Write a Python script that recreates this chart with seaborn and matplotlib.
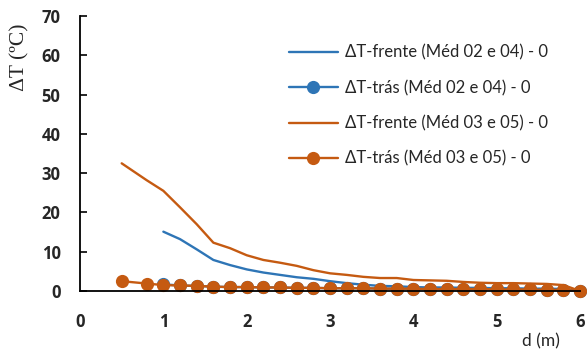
import matplotlib
matplotlib.use("Agg")
import matplotlib.pyplot as plt
import seaborn as sns
import pandas as pd

# Distances (m)
d_blue = [1.0, 1.2, 1.4, 1.6, 1.8, 2.0, 2.2, 2.4, 2.6, 2.8, 3.0, 3.2, 3.4, 3.6, 3.8,
          4.0, 4.2, 4.4, 4.6, 4.8, 5.0, 5.2, 5.4, 5.6, 5.8, 6.0]
d_orange = [0.5, 0.8] + d_blue

# Temperature differences (ºC)
frente_02_04 = [15.1, 13.2, 10.6, 7.9, 6.6, 5.5, 4.7, 4.1, 3.5, 3.1, 2.5, 2.0, 1.6, 1.3, 1.2,
                1.0, 0.9, 0.9, 0.8, 0.8, 0.7, 0.7, 0.6, 0.6, 0.5, 0.0]
tras_02_04 = [1.7, 1.4, 1.3, 1.1, 1.0, 1.0, 0.9, 0.9, 0.8, 0.8, 0.7, 0.7, 0.7, 0.6, 0.6,
              0.6, 0.5, 0.5, 0.5, 0.5, 0.4, 0.4, 0.4, 0.3, 0.3, 0.0]
frente_03_05 = [32.5, 28.2, 25.5, 21.3, 17.0, 12.3, 10.9, 9.1, 7.9, 7.2, 6.4, 5.3, 4.5, 4.1,
                3.6, 3.3, 3.3, 2.8, 2.7, 2.6, 2.3, 2.1, 2.0, 2.0, 1.9, 1.8, 1.5, 0.0]
tras_03_05 = [2.5, 1.9, 1.5, 1.4, 1.3, 1.1, 1.0, 1.0, 0.9, 0.9, 0.8, 0.8, 0.7, 0.7, 0.7,
              0.6, 0.6, 0.6, 0.5, 0.5, 0.5, 0.5, 0.4, 0.4, 0.4, 0.3, 0.3, 0.0]

labels = ["ΔT-frente (Méd 02 e 04) - 0", "ΔT-trás (Méd 02 e 04) - 0",
          "ΔT-frente (Méd 03 e 05) - 0", "ΔT-trás (Méd 03 e 05) - 0"]

x_ticks = [0, 1, 2, 3, 4, 5, 6]
y_ticks = [0, 10, 20, 30, 40, 50, 60, 70]

BLUE = "#2E75B6"
ORANGE = "#C55A11"

sns.set_theme(style="white", rc={"ytick.left": True, "xtick.bottom": False})
plt.rcParams["font.family"] = ["Lato", "DejaVu Sans"]

fig = plt.figure(figsize=(5.87, 3.52), dpi=100)
ax = fig.add_axes([0.1363, 0.1733, 0.852, 0.7812])

series = [
    (d_blue, frente_02_04, BLUE, None),
    (d_blue, tras_02_04, BLUE, "o"),
    (d_orange, frente_03_05, ORANGE, None),
    (d_orange, tras_03_05, ORANGE, "o"),
]
for (xs, ys, color, marker), lab in zip(series, labels):
    df = pd.DataFrame({"d": xs, "dT": ys})
    sns.lineplot(data=df, x="d", y="dT", ax=ax, color=color, linewidth=1.7,
                 marker=marker, markersize=9.5, markeredgewidth=0,
                 label=lab, clip_on=False, estimator=None, sort=False)

ax.set_xlim(0, 6)
ax.set_ylim(0, 70)
tick_font = dict(fontweight="bold", fontsize=12, family=["Open Sans", "DejaVu Sans"])
ax.set_xticks(x_ticks, [str(v) for v in x_ticks], **tick_font)
ax.set_yticks(y_ticks, [str(v) for v in y_ticks], **tick_font)
ax.tick_params(axis="y", which="major", direction="in", length=5, width=1.2,
               color="black", left=True, pad=14)
ax.tick_params(axis="x", which="major", length=0, pad=16)

for side in ("top", "right"):
    ax.spines[side].set_visible(False)
for side in ("left", "bottom"):
    ax.spines[side].set_color("black")
    ax.spines[side].set_linewidth(1.3)

ax.set_xlabel("")
ax.set_ylabel("")
fig.text(0.033, 0.838, "ΔT (ºC)", rotation=90, ha="center", va="center",
         fontsize=15.5, family=["Liberation Serif", "DejaVu Serif"])
fig.text(0.921, 0.03, "d (m)", ha="center", va="center", fontsize=12.5)

leg = ax.legend(loc="upper left", bbox_to_anchor=(0.405, 0.92), frameon=False,
                fontsize=12, handlelength=2.9, labelspacing=1.15,
                handletextpad=0.45, borderaxespad=0)

fig.savefig("out.png", dpi=100)
